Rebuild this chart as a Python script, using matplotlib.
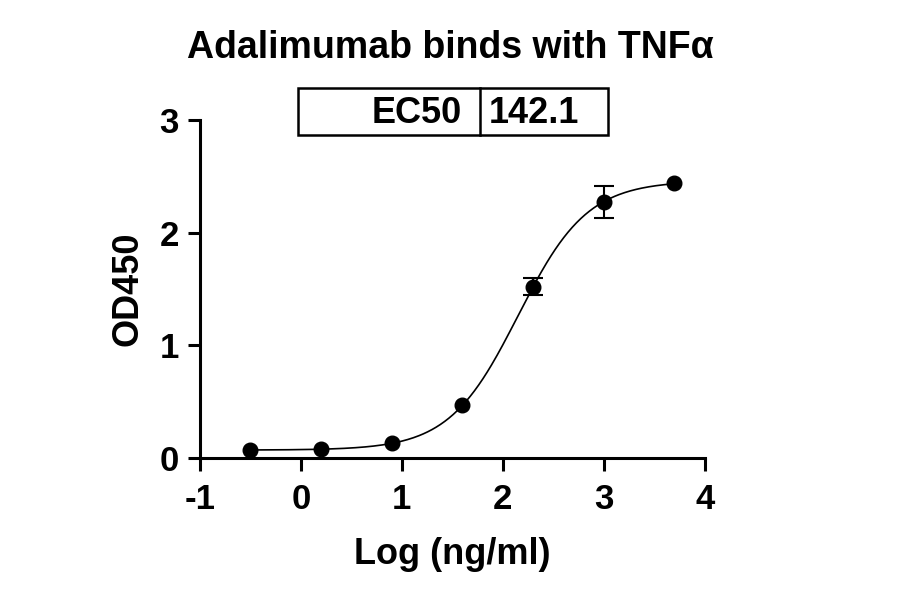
import numpy as np
import matplotlib
matplotlib.use("Agg")
import matplotlib.pyplot as plt

plt.rcParams['font.family'] = ['Liberation Sans', 'DejaVu Sans']
plt.rcParams['font.weight'] = 'bold'

# measured points (log ng/ml vs OD450)
log_conc = [-0.5, 0.2, 0.9, 1.6, 2.3, 3.0, 3.7]
od450 = [0.07, 0.08, 0.13, 0.47, 1.52, 2.27, 2.44]
od_err = [0.0, 0.0, 0.0, 0.0, 0.075, 0.14, 0.0]

# 4PL fit parameters
fit_bottom = 0.07
fit_top = 2.46
fit_ec50 = 142.1
fit_hill = 1.27

x_ticks = [-1, 0, 1, 2, 3, 4]
y_ticks = [0, 1, 2, 3]

fig = plt.figure(figsize=(9, 5.94), dpi=100)
ax = fig.add_axes([0.222, 0.229, 0.561, 0.569])

xs = np.linspace(min(log_conc), max(log_conc), 300)
ys = fit_bottom + (fit_top - fit_bottom) / (1 + 10 ** ((np.log10(fit_ec50) - xs) * fit_hill))
ax.plot(xs, ys, color='black', linewidth=1.2, zorder=2)

ax.plot(log_conc, od450, 'o', color='black', markersize=10.5, zorder=3)
# error bars only where there is a spread
ex = [x for x, e in zip(log_conc, od_err) if e > 0]
ey = [y for y, e in zip(od450, od_err) if e > 0]
ee = [e for e in od_err if e > 0]
ax.errorbar(ex, ey, yerr=ee, fmt='none', ecolor='black',
            elinewidth=1.5, capsize=7, capthick=1.5, zorder=3)

ax.set_xlim(-1, 4)
ax.set_ylim(0, 3)
ax.set_xticks(x_ticks)
ax.set_yticks(y_ticks)
ax.set_xticklabels([str(t) for t in x_ticks])
ax.set_yticklabels([str(t) for t in y_ticks])
for s in ['top', 'right']:
    ax.spines[s].set_visible(False)
for s in ['left', 'bottom']:
    ax.spines[s].set_linewidth(2.2)
ax.tick_params(axis='both', width=2.2, length=9, labelsize=25)
ax.tick_params(axis='x', pad=9)
ax.tick_params(axis='y', pad=6)
ax.set_xlabel('Log (ng/ml)', fontsize=26, fontweight='bold', labelpad=15)
ax.set_ylabel('OD450', fontsize=26, fontweight='bold', labelpad=10)

fig.text(0.5, 0.92, 'Adalimumab binds with TNF\u03b1', ha='center', va='center',
         fontsize=27, fontweight='bold')

# EC50 box
bx0, bx1, bdiv = 298 / 900, 608 / 900, 480 / 900
by0, by1 = 1 - 135 / 594, 1 - 88 / 594
fig.add_artist(plt.Rectangle((bx0, by0), bx1 - bx0, by1 - by0, transform=fig.transFigure,
                             fill=False, edgecolor='black', linewidth=1.8))
fig.add_artist(plt.Line2D([bdiv, bdiv], [by0, by1], transform=fig.transFigure,
                          color='black', linewidth=1.8))
ty = (by0 + by1) / 2 - 0.004
fig.text(bdiv - 0.02, ty, 'EC50', ha='right', va='center', fontsize=26, fontweight='bold')
fig.text(bdiv + 0.01, ty, '%.1f' % fit_ec50, ha='left', va='center', fontsize=26, fontweight='bold')

fig.savefig('out.png', dpi=100)
